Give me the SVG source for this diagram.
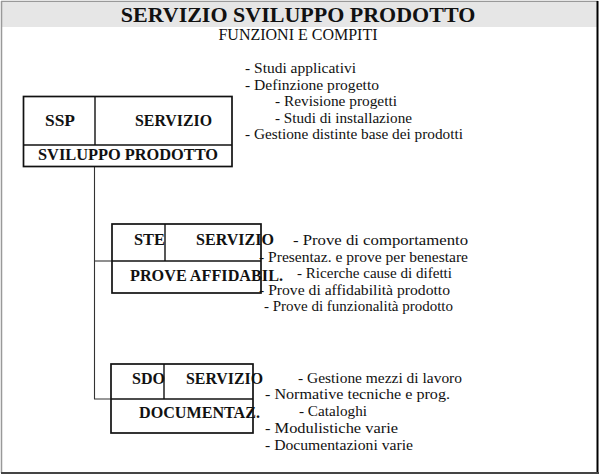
<svg xmlns="http://www.w3.org/2000/svg" width="600" height="475" viewBox="0 0 600 475">
<style>
  .t{fill:#111}
  .r{font-size:15.5px}
  .b{font-size:16px;font-weight:bold}
  .box{fill:none;stroke:#111;stroke-width:1.7}
  .div{stroke:#111;stroke-width:1.4}
  .con{fill:none;stroke:#333;stroke-width:1.1}
</style>
<rect x="0" y="0" width="600" height="475" fill="#fff"/>
<rect x="2" y="3" width="595" height="24" fill="#e6e6e6"/>
<line x1="1" y1="1.5" x2="598" y2="1.5" stroke="#999" stroke-width="1.5"/>
<line x1="1.5" y1="1" x2="1.5" y2="473" stroke="#999" stroke-width="1.5"/>
<line x1="597.5" y1="1" x2="597.5" y2="474" stroke="#000" stroke-width="2"/>
<line x1="1" y1="473" x2="599" y2="473" stroke="#444" stroke-width="2"/>

<g font-family="Liberation Serif, DejaVu Serif, serif">
<g id="title">
  <text class="t" x="298" y="22" font-size="22" font-weight="bold" text-anchor="middle">SERVIZIO SVILUPPO PRODOTTO</text>
  <text class="t" x="298" y="40" font-size="16" text-anchor="middle">FUNZIONI E COMPITI</text>
</g>

<g id="connectors">
  <polyline class="con" points="94.5,166.5 94.5,399 111,399"/>
  <line class="con" x1="94.5" y1="261" x2="112" y2="261"/>
</g>

<g id="ssp">
  <rect class="box" x="23.5" y="96.5" width="208.5" height="70"/>
  <line class="div" x1="23.5" y1="145" x2="232" y2="145"/>
  <line class="div" x1="95" y1="96.5" x2="95" y2="145"/>
  <text class="t b" x="45" y="126" textLength="30" lengthAdjust="spacingAndGlyphs">SSP</text>
  <text class="t b" x="135" y="126" textLength="77" lengthAdjust="spacingAndGlyphs">SERVIZIO</text>
  <text class="t b" x="38" y="160" textLength="180" lengthAdjust="spacingAndGlyphs">SVILUPPO PRODOTTO</text>
</g>
<g id="ssp-list">
  <text class="t r" x="245" y="73" textLength="111" lengthAdjust="spacingAndGlyphs">- Studi applicativi</text>
  <text class="t r" x="245" y="90" textLength="134" lengthAdjust="spacingAndGlyphs">- Definzione progetto</text>
  <text class="t r" x="275" y="106" textLength="122" lengthAdjust="spacingAndGlyphs">- Revisione progetti</text>
  <text class="t r" x="275" y="123" textLength="137" lengthAdjust="spacingAndGlyphs">- Studi di installazione</text>
  <text class="t r" x="245" y="139" textLength="218" lengthAdjust="spacingAndGlyphs">- Gestione distinte base dei prodotti</text>
</g>

<g id="ste">
  <rect class="box" x="112" y="224" width="149" height="69"/>
  <line class="div" x1="112" y1="261" x2="261" y2="261"/>
  <line class="div" x1="165" y1="224" x2="165" y2="261"/>
  <text class="t b" x="134" y="245" textLength="31" lengthAdjust="spacingAndGlyphs">STE</text>
  <text class="t b" x="196" y="245" textLength="78" lengthAdjust="spacingAndGlyphs">SERVIZIO</text>
  <text class="t b" x="130" y="281" textLength="153" lengthAdjust="spacingAndGlyphs">PROVE AFFIDABIL.</text>
</g>
<g id="ste-list">
  <text class="t r" x="293" y="245" textLength="175" lengthAdjust="spacingAndGlyphs">- Prove di comportamento</text>
  <text class="t r" x="259" y="262" textLength="209" lengthAdjust="spacingAndGlyphs">- Presentaz. e prove per benestare</text>
  <text class="t r" x="297" y="278" textLength="155" lengthAdjust="spacingAndGlyphs">- Ricerche cause di difetti</text>
  <text class="t r" x="259" y="295" textLength="191" lengthAdjust="spacingAndGlyphs">- Prove di affidabilità prodotto</text>
  <text class="t r" x="264" y="311" textLength="189" lengthAdjust="spacingAndGlyphs">- Prove di funzionalità prodotto</text>
</g>

<g id="sdo">
  <rect class="box" x="111" y="364" width="142" height="69"/>
  <line class="div" x1="111" y1="399" x2="253" y2="399"/>
  <line class="div" x1="164" y1="364" x2="164" y2="399"/>
  <text class="t b" x="132" y="384" textLength="33" lengthAdjust="spacingAndGlyphs">SDO</text>
  <text class="t b" x="186" y="384" textLength="77" lengthAdjust="spacingAndGlyphs">SERVIZIO</text>
  <text class="t b" x="139" y="418" textLength="121" lengthAdjust="spacingAndGlyphs">DOCUMENTAZ.</text>
</g>
<g id="sdo-list">
  <text class="t r" x="298" y="383" textLength="164" lengthAdjust="spacingAndGlyphs">- Gestione mezzi di lavoro</text>
  <text class="t r" x="265" y="399" textLength="185" lengthAdjust="spacingAndGlyphs">- Normative tecniche e prog.</text>
  <text class="t r" x="299" y="416" textLength="68" lengthAdjust="spacingAndGlyphs">- Cataloghi</text>
  <text class="t r" x="265" y="433" textLength="133" lengthAdjust="spacingAndGlyphs">- Modulistiche varie</text>
  <text class="t r" x="265" y="450" textLength="148" lengthAdjust="spacingAndGlyphs">- Documentazioni varie</text>
</g>
</g>
</svg>
